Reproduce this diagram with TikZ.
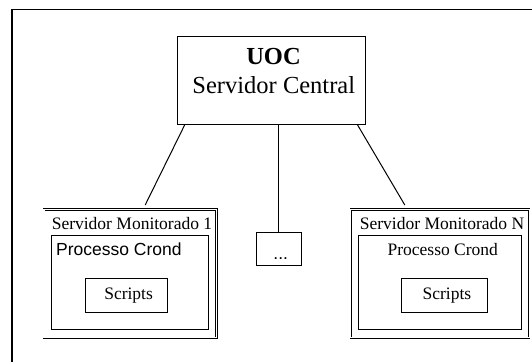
\documentclass[tikz,border=0pt]{standalone}
\usepackage{fontspec}
\setmainfont{Liberation Serif}
\setsansfont{Liberation Sans}
\begin{document}
\begin{tikzpicture}[x=1pt,y=-1pt,
  box/.style={draw, line width=1pt, inner sep=0pt},
  dbox/.style={draw, double, double distance=1.3pt, line width=0.6pt, inner sep=0pt},
  conn/.style={line width=1pt},
  lbl/.style={inner sep=0pt, anchor=base, font=\fontsize{17.5}{20}\selectfont},
  slbl/.style={inner sep=0pt, anchor=base west, font=\sffamily\fontsize{17.5}{20}\selectfont},
  big/.style={inner sep=0pt, anchor=base, font=\fontsize{24.5}{28}\selectfont}]
\useasboundingbox (0,0) rectangle (532,362);
\draw[line width=1.5pt] (11.9,362) -- (11.9,9.5) -- (532,9.5);
% central
\node[box, minimum width=188.3pt, minimum height=88pt] (central) at (271.15,80.5) {};
\node[big, font=\bfseries\fontsize{24.5}{28}\selectfont] (uoc) at (273.5,64) {UOC};
\node[big] (sc) at (273.8,93.7) {Servidor Central};
% dots
\node[box, minimum width=45.5pt, minimum height=33pt] (dots) at (278.75,249) {};
\node[inner sep=0pt, anchor=base, font=\sffamily\fontsize{17.5}{20}\selectfont] (dt) at (280.7,259) {...};
% left server
\node[dbox, minimum width=172.5pt, minimum height=128.2pt] (s1) at (130.3,273.65) {};
\node[lbl] (s1t) at (132,229) {Servidor Monitorado 1};
\node[box, minimum width=157.5pt, minimum height=94pt] (c1) at (130.15,282) {};
\node[slbl] (c1t) at (56,255) {Processo Crond};
\node[box, minimum width=82.1pt, minimum height=34pt] (sc1) at (126.05,295.3) {};
\node[lbl] (sc1t) at (128.6,299) {Scripts};
% right server
\node[dbox, minimum width=178.4pt, minimum height=128.2pt] (sn) at (439.95,273.65) {};
\node[lbl] (snt) at (442,229) {Servidor Monitorado N};
\node[box, minimum width=162.9pt, minimum height=94pt] (cn) at (439.95,282) {};
\node[lbl] (cnt) at (442.8,255) {Processo Crond};
\node[box, minimum width=85.5pt, minimum height=34pt] (scn) at (444.35,295.3) {};
\node[lbl] (scnt) at (446.9,299) {Scripts};
% connectors
\coordinate (a1) at (184.9,124.5);
\coordinate (b1) at (145.2,205);
\coordinate (an) at (357.3,124.5);
\coordinate (bn) at (404.8,205);
\draw[conn] (a1) -- (b1);
\draw[conn] (an) -- (bn);
\draw[conn] (dots.north |- central.south) -- (dots.north);
\end{tikzpicture}
\end{document}
